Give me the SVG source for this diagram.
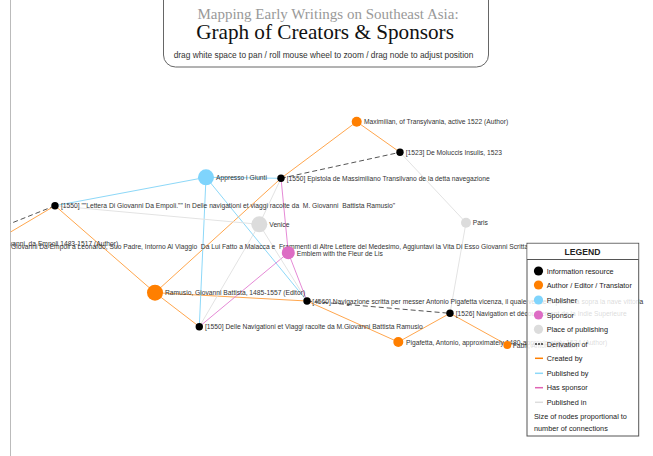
<svg xmlns="http://www.w3.org/2000/svg" width="653" height="456" viewBox="0 0 653 456">
<style>
.lbl{font-family:"Liberation Sans",Arial,sans-serif;font-size:6.7px;fill:#333;white-space:pre}
.leg{font-family:"Liberation Sans",Arial,sans-serif;font-size:7.3px;fill:#222}
.e-cr{stroke:#ffa64d;stroke-width:1;fill:none}
.e-pb{stroke:#8dd8f8;stroke-width:1;fill:none}
.e-sp{stroke:#e58ad6;stroke-width:1;fill:none}
.e-pl{stroke:#e3e3e3;stroke-width:1;fill:none}
.e-dv{stroke:#555;stroke-width:1;stroke-dasharray:5,3;fill:none}
.n-res{fill:#000}
.n-aut{fill:#ff7f00}
.n-pub{fill:#7fd4fc}
.n-spn{fill:#dd6cc4}
.n-plc{fill:#dcdcdc}
.lg{stroke-width:1.5}
</style>
<defs>
<clipPath id="area"><rect x="10.7" y="0" width="643" height="456"/></clipPath>
</defs>
<rect x="0" y="0" width="653" height="456" fill="#fff"/>
<line x1="10.5" y1="0" x2="10.5" y2="456" stroke="#bbb" stroke-width="1"/>

<g clip-path="url(#area)">
<g id="connectors">
<line class="e-cr" x1="356.7" y1="121.7" x2="281" y2="178.3"/>
<line class="e-cr" x1="356.7" y1="121.7" x2="400" y2="152.3"/>
<line class="e-cr" x1="281" y1="178.3" x2="155" y2="292.7"/>
<line class="e-cr" x1="55" y1="205.7" x2="155" y2="292.7"/>
<line class="e-cr" x1="55" y1="205.7" x2="-8" y2="243"/>
<line class="e-cr" x1="155" y1="292.7" x2="307" y2="301"/>
<line class="e-cr" x1="155" y1="292.7" x2="199.3" y2="326.7"/>
<line class="e-cr" x1="307" y1="301" x2="398.3" y2="342"/>
<line class="e-cr" x1="398.3" y1="342" x2="450" y2="313.3"/>
<line class="e-cr" x1="450" y1="313.3" x2="507.3" y2="345"/>
<line class="e-pb" x1="206" y1="177.3" x2="55" y2="205.7"/>
<line class="e-pb" x1="206" y1="177.3" x2="281" y2="178.3"/>
<line class="e-pb" x1="206" y1="177.3" x2="199.3" y2="326.7"/>
<line class="e-pb" x1="206" y1="177.3" x2="307" y2="301"/>
<line class="e-sp" x1="288.3" y1="252.7" x2="281" y2="178.3"/>
<line class="e-sp" x1="288.3" y1="252.7" x2="199.3" y2="326.7"/>
<line class="e-sp" x1="288.3" y1="252.7" x2="307" y2="301"/>
<line class="e-pl" x1="55" y1="205.7" x2="259.3" y2="224.3"/>
<line class="e-pl" x1="281" y1="178.3" x2="259.3" y2="224.3"/>
<line class="e-pl" x1="259.3" y1="224.3" x2="199.3" y2="326.7"/>
<line class="e-pl" x1="259.3" y1="224.3" x2="307" y2="301"/>
<line class="e-pl" x1="400" y1="152.3" x2="466" y2="222.7"/>
<line class="e-pl" x1="466" y1="222.7" x2="450" y2="313.3"/>
<line class="e-dv" x1="281" y1="178.3" x2="400" y2="152.3"/>
<line class="e-dv" x1="307" y1="301" x2="450" y2="313.3"/>
<line class="e-dv" x1="55" y1="205.7" x2="-40" y2="243.7"/>
</g>

<g id="n-empoli-author"><circle class="n-aut" cx="-8" cy="243" r="5"/><text class="lbl" x="-1.5" y="245.6">Giovanni, da Empoli 1483-1517 (Author)</text></g>
<g id="n-empoli-letter"><circle class="n-res" cx="-40" cy="243.7" r="3.7"/><text class="lbl" x="11" y="249.2">Giovanni Da Empoli a Leonardo, Suo Padre, Intorno Al Viaggio  Da Lui Fatto a Malacca e  Frammenti di Altre Lettere del Medesimo, Aggiuntavi la Vita Di Esso Giovanni Scritta</text></g>
<g id="n-maximilian"><circle class="n-aut" cx="356.7" cy="121.7" r="5"/><text class="lbl" x="364" y="124.2">Maximilian, of Transylvania, active 1522 (Author)</text></g>
<g id="n-moluccis"><circle class="n-res" cx="400" cy="152.3" r="3.7"/><text class="lbl" x="405.7" y="154.8">[1523] De Moluccis Insulis, 1523</text></g>
<g id="n-giunti"><circle class="n-pub" cx="206" cy="177.3" r="8"/><text class="lbl" x="216" y="179.8">Appresso i Giunti</text></g>
<g id="n-epistola"><circle class="n-res" cx="281" cy="178.3" r="3.7"/><text class="lbl" x="286.7" y="180.8">[1550] Epistola de Massimiliano Transilvano de la detta navegazione</text></g>
<g id="n-lettera"><circle class="n-res" cx="55" cy="205.7" r="3.7"/><text class="lbl" x="61" y="208.2">[1550] ""Lettera Di Giovanni Da Empoli."" In Delle navigationi et viaggi racolte da  M. Giovanni  Battista Ramusio"</text></g>
<g id="n-paris"><circle class="n-plc" cx="466" cy="222.7" r="5"/><text class="lbl" x="472.7" y="225.2">Paris</text></g>
<g id="n-venice"><circle class="n-plc" cx="259.3" cy="224.3" r="8"/><text class="lbl" x="269.3" y="226.8">Venice</text></g>
<g id="n-emblem"><circle class="n-spn" cx="288.3" cy="252.7" r="6.5"/><text class="lbl" x="296.7" y="255.8">Emblem with the Fleur de Lis</text></g>
<g id="n-ramusio"><circle class="n-aut" cx="155" cy="292.7" r="8"/><text class="lbl" x="165" y="295.2">Ramusio, Giovanni Battista, 1485-1557 (Editor)</text></g>
<g id="n-4560"><circle class="n-res" cx="307" cy="301" r="3.7"/><text class="lbl" x="312.3" y="303.5">[4560] Navigazione scritta per messer Antonio Pigafetta vicenza, il quale venne in persona sopra la nave vittoria</text></g>
<g id="n-1526"><circle class="n-res" cx="450" cy="313.3" r="3.7"/><text class="lbl" x="455.7" y="315.8">[1526] Navigation et découvrement de la Indie Superieure</text></g>
<g id="n-delle"><circle class="n-res" cx="199.3" cy="326.7" r="3.7"/><text class="lbl" x="205" y="329.2">[1550] Delle Navigationi et Viaggi racolte da M.Giovanni Battista Ramusio</text></g>
<g id="n-pigafetta"><circle class="n-aut" cx="398.3" cy="342" r="5"/><text class="lbl" x="406" y="344.5">Pigafetta, Antonio, approximately 1480-approximately 1534 (Author)</text></g>
<g id="n-fabri"><circle class="n-aut" cx="507.3" cy="345" r="4"/><text class="lbl" x="512.7" y="347.8">Fabri, Antonio (Editor)</text></g>
</g>

<g id="title">
<rect x="163.5" y="-20" width="325" height="87" rx="12" fill="#fff" stroke="#666" stroke-width="1"/>
<text x="328" y="19" text-anchor="middle" font-family="'Liberation Serif','Times New Roman',serif" font-size="15" fill="#999">Mapping Early Writings on Southeast Asia:</text>
<text x="325" y="39" text-anchor="middle" font-family="'Liberation Serif','Times New Roman',serif" font-size="21.2" fill="#111">Graph of Creators &amp; Sponsors</text>
<text x="323.5" y="58" text-anchor="middle" font-family="'Liberation Sans',Arial,sans-serif" font-size="8.35" fill="#333">drag white space to pan / roll mouse wheel to zoom / drag node to adjust position</text>
</g>

<g id="legend">
<rect x="527" y="243.3" width="111.7" height="192.7" fill="#fff" fill-opacity="0.82" stroke="#555" stroke-width="1"/>
<rect x="527.5" y="243.8" width="110.7" height="15.5" fill="#fff"/>
<line x1="527" y1="259.5" x2="638.7" y2="259.5" stroke="#555" stroke-width="1"/>
<text x="582.5" y="254.8" text-anchor="middle" font-family="'Liberation Sans',Arial,sans-serif" font-size="8.6" font-weight="bold" fill="#222">LEGEND</text>
<circle cx="538.5" cy="271" r="4.6" fill="#000"/><text class="leg" x="546.7" y="273.6">Information resource</text>
<circle cx="538.5" cy="285" r="4.6" fill="#ff7f00"/><text class="leg" x="546.7" y="287.6">Author / Editor / Translator</text>
<circle cx="538.5" cy="300" r="4.6" fill="#7fd4fc"/><text class="leg" x="546.7" y="302.6">Publisher</text>
<circle cx="538.5" cy="315" r="4.6" fill="#dd6cc4"/><text class="leg" x="546.7" y="317.6">Sponsor</text>
<circle cx="538.5" cy="329.3" r="4.6" fill="#dcdcdc"/><text class="leg" x="546.7" y="331.9">Place of publishing</text>
<line class="lg" x1="535" y1="344" x2="543" y2="344" stroke="#333" stroke-dasharray="2,1"/><text class="leg" x="546.7" y="346.6">Derivation of</text>
<line class="lg" x1="535" y1="358.3" x2="543" y2="358.3" stroke="#ff7f00"/><text class="leg" x="546.7" y="360.9">Created by</text>
<line class="lg" x1="535" y1="373.3" x2="543" y2="373.3" stroke="#8dd8f8"/><text class="leg" x="546.7" y="375.9">Published by</text>
<line class="lg" x1="535" y1="387.7" x2="543" y2="387.7" stroke="#e064b4"/><text class="leg" x="546.7" y="390.3">Has sponsor</text>
<line class="lg" x1="535" y1="402.3" x2="543" y2="402.3" stroke="#ddd"/><text class="leg" x="546.7" y="404.9">Published in</text>
<text class="leg" x="534" y="419.3">Size of nodes proportional to</text>
<text class="leg" x="534" y="430.9">number of connections</text>
</g>
</svg>
